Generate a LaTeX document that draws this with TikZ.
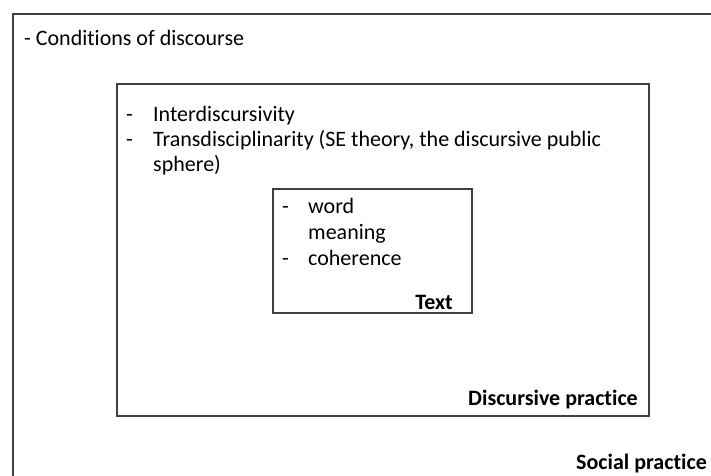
\documentclass[tikz,border=0pt]{standalone}
\usepackage{fontspec}
\setmainfont[Ligatures={NoCommon}]{Carlito}
\tikzset{layerbox/.style={draw=black!75, line width=1.3pt}}
\tikzset{itemtxt/.style={anchor=base west, inner sep=0pt, font=\fontsize{22}{24}\selectfont}}
\tikzset{layername/.style={anchor=base east, inner sep=0pt, font=\fontsize{22}{24}\selectfont\bfseries}}

\begin{document}
\begin{tikzpicture}[x=1pt,y=-1pt]
\useasboundingbox (0,0) rectangle (711,475);
\clip (0,0) rectangle (711,475);

% social practice
\draw[layerbox] (13,14) rectangle (730,495);
\node[itemtxt] (cond) at (24,45) {- Conditions of discourse};
\node[layername] (social) at (707,469) {Social practice};

% discursive practice
\draw[layerbox] (117,84) rectangle (649,416);
\node[itemtxt] (d1) at (126,121) {-};
\node[itemtxt] (inter) at (153,121) {Interdiscursivity};
\node[itemtxt] (d2) at (126,146) {-};
\node[itemtxt] (trans) at (153,146) {Transdisciplinarity (SE theory, the discursive public};
\node[itemtxt] (sphere) at (153,171) {sphere)};
\node[layername] (disc) at (638,405) {Discursive practice};

% text
\draw[layerbox] (273,189) rectangle (472,313);
\node[itemtxt] (d3) at (282,213) {-};
\node[itemtxt] (word) at (308,213) {word};
\node[itemtxt] (meaning) at (308,239) {meaning};
\node[itemtxt] (d4) at (282,265) {-};
\node[itemtxt] (coh) at (308,265) {coherence};
\node[layername] (text) at (453,309) {Text};
\end{tikzpicture}
\end{document}
